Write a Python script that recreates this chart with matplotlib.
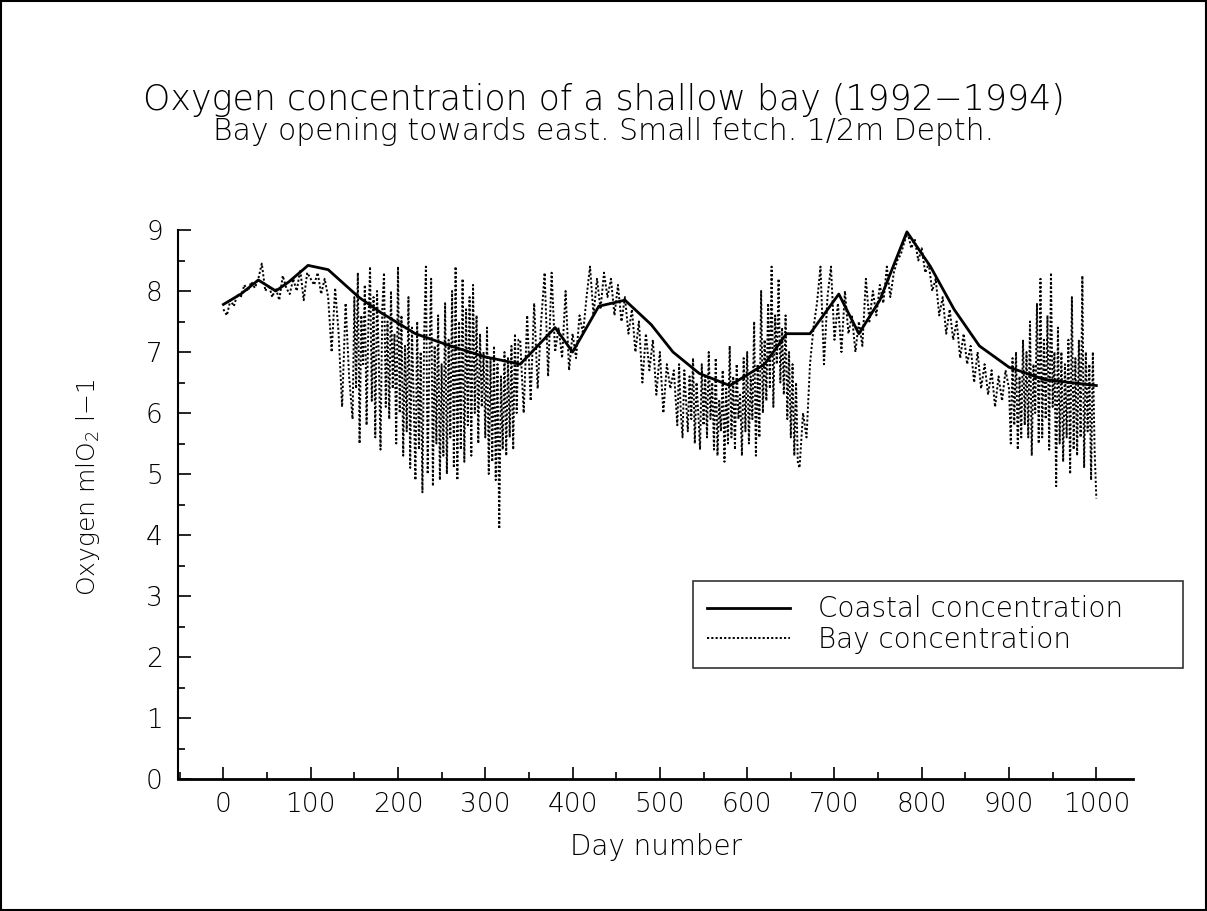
import matplotlib
matplotlib.use("Agg")
import matplotlib.pyplot as plt
from matplotlib.patches import Rectangle
from matplotlib.ticker import MultipleLocator

plt.rcParams["font.family"] = ["DejaVu Sans"]
plt.rcParams["font.weight"] = "light"
plt.rcParams["axes.labelweight"] = "light"

# Coastal concentration (solid line)
coastal_day = [0, 20, 40, 60, 75, 97, 120, 155, 180, 220, 260, 300, 340, 380, 400,
               430, 460, 490, 515, 545, 580, 620, 645, 672, 705, 728, 752, 783, 810,
               837, 866, 900, 940, 1000]
coastal_o2 = [7.78, 7.95, 8.18, 8.0, 8.15, 8.42, 8.35, 7.9, 7.65, 7.3, 7.1, 6.92, 6.8,
              7.4, 7.0, 7.75, 7.85, 7.45, 7.0, 6.65, 6.45, 6.8, 7.3, 7.3, 7.95, 7.3,
              7.85, 8.97, 8.4, 7.7, 7.1, 6.75, 6.55, 6.45]

# Bay concentration (dotted line); finer sampling where it swings a lot
bay_day = (list(range(0, 150, 4)) + list(range(150, 340, 2)) + list(range(340, 520, 4))
           + list(range(520, 660, 2)) + list(range(660, 900, 4)) + list(range(900, 1001, 2)))
bay_o2 = [
    # 0-148, every 4 days
    7.7, 7.6, 7.85, 7.75, 7.95, 7.9, 8.1, 8.0, 8.15, 8.05,
    8.2, 8.45, 8.0, 8.1, 7.9, 8.05, 7.85, 8.25, 8.05, 7.95,
    8.2, 8.0, 8.35, 7.85, 8.3, 8.2, 8.1, 8.3, 7.95, 8.2,
    7.9, 7.0, 8.05, 7.3, 6.1, 7.8, 6.6, 5.9,
    # 150-338, every 2 days
    7.9, 6.4, 8.3, 5.5, 7.6, 6.8, 8.1, 5.8, 7.4, 8.4,
    6.2, 7.9, 5.6, 8.0, 6.9, 5.4, 7.7, 8.3, 6.1, 7.5,
    5.9, 8.0, 6.4, 7.3, 5.5, 8.4, 6.0, 7.6, 5.3, 7.1,
    5.7, 7.9, 5.1, 7.4, 6.2, 4.9, 7.5, 5.4, 7.0, 4.7,
    7.3, 8.4, 5.0, 6.9, 8.2, 4.8, 7.1, 5.5, 7.6, 4.9,
    6.8, 5.3, 7.8, 5.0, 7.2, 5.6, 8.0, 5.1, 8.4, 4.9,
    7.5, 5.4, 8.2, 5.2, 7.7, 5.8, 7.9, 5.3, 8.1, 6.0,
    7.6, 5.5, 7.3, 6.1, 7.0, 5.6, 7.4, 5.0, 6.9, 5.2,
    7.1, 4.9, 6.8, 4.1, 6.6, 5.4, 7.0, 5.3, 6.9, 5.6,
    7.1, 5.4, 7.3, 6.0, 7.2,
    # 340-516, every 4 days
    7.2, 6.0, 7.6, 6.2, 7.8, 6.4, 7.5, 8.3, 6.6, 8.3,
    7.0, 7.4, 6.9, 8.0, 6.7, 7.3, 6.9, 7.6, 7.3, 7.9,
    8.4, 7.6, 8.2, 7.7, 8.3, 7.9, 8.2, 7.6, 8.1, 7.5,
    7.9, 7.3, 7.7, 7.0, 7.5, 6.5, 7.3, 6.7, 7.2, 6.3,
    7.0, 6.0, 6.8, 6.4, 6.7,
    # 520-658, every 2 days
    5.8, 6.8, 6.0, 5.6, 6.7, 6.2, 5.7, 6.6, 5.9, 6.9,
    5.5, 6.5, 6.0, 5.4, 6.8, 5.8, 6.6, 5.6, 7.0, 5.9,
    6.5, 5.4, 6.9, 5.3, 6.2, 5.7, 6.7, 5.2, 6.4, 5.5,
    7.1, 5.6, 6.6, 5.4, 6.8, 5.9, 6.3, 5.3, 6.9, 5.7,
    7.0, 5.5, 6.6, 5.9, 7.5, 5.3, 6.8, 5.6, 8.0, 6.0,
    7.2, 6.2, 7.8, 6.4, 8.4, 6.1, 7.6, 6.8, 8.2, 6.5,
    7.4, 6.3, 7.6, 5.9, 7.0, 5.6, 6.8, 5.3, 6.5, 5.2,
    # 660-896, every 4 days
    5.1, 6.0, 5.6, 6.8, 7.4, 7.8, 8.4, 6.8, 7.9, 8.4,
    7.2, 7.8, 7.0, 8.0, 7.3, 7.6, 7.0, 7.5, 7.1, 8.2,
    7.5, 8.0, 7.6, 8.1, 7.8, 8.4, 7.9, 8.3, 8.5, 8.6,
    8.8, 8.95, 8.7, 8.85, 8.5, 8.7, 8.3, 8.45, 8.0, 8.2,
    7.6, 7.9, 7.3, 7.7, 7.2, 7.5, 6.9, 7.3, 6.8, 7.1,
    6.5, 7.0, 6.4, 6.8, 6.3, 6.7, 6.1, 6.6, 6.2, 6.7,
    # 900-1000, every 2 days
    6.4, 5.5, 6.9, 5.8, 7.0, 5.4, 6.6, 5.6, 7.2, 5.8,
    7.0, 5.6, 7.5, 5.3, 6.8, 6.0, 7.8, 5.5, 8.2, 5.6,
    7.2, 5.9, 7.6, 5.4, 8.3, 6.1, 7.0, 4.8, 7.4, 5.5,
    7.0, 5.2, 6.8, 5.6, 7.2, 5.0, 7.9, 5.4, 6.9, 5.3,
    7.2, 5.6, 8.25, 5.1, 7.0, 5.7, 6.8, 4.9, 7.0, 5.4,
    4.6,
]

fig = plt.figure(figsize=(12.07, 9.11), dpi=100)
ax = fig.add_axes([178 / 1207, 132 / 911, 955 / 1207, 549 / 911])

ax.plot(coastal_day, coastal_o2, color="black", lw=2.0, label="Coastal concentration", zorder=2)
ax.plot(bay_day, bay_o2, color="black", lw=1.4, linestyle=(0, (1.1, 1.1)),
        label="Bay concentration", zorder=3)

ax.set_xlim(-52, 1042)
ax.set_ylim(0, 9)
ax.xaxis.set_major_locator(MultipleLocator(100))
ax.xaxis.set_minor_locator(MultipleLocator(50))
ax.yaxis.set_major_locator(MultipleLocator(1))
ax.yaxis.set_minor_locator(MultipleLocator(0.5))
ax.tick_params(which="both", direction="in", labelsize=19, width=1.2)
ax.tick_params(which="major", length=9)
ax.tick_params(which="minor", length=5)
ax.tick_params(axis="y", pad=11)
ax.tick_params(axis="x", pad=9)

for side in ["top", "right"]:
    ax.spines[side].set_visible(False)
ax.spines["left"].set_linewidth(1.5)
ax.spines["bottom"].set_linewidth(2.0)

ax.set_xlabel("Day number", fontsize=20, labelpad=12)
ax.set_ylabel("Oxygen mlO$_2$ l\u22121", fontsize=18)
ax.yaxis.set_label_coords(-0.080, 0.532)

fig.text(0.5, 1 - 100 / 911, "Oxygen concentration of a shallow bay (1992\u22121994)",
         ha="center", va="center", fontsize=25)
fig.text(0.5, 1 - 131 / 911, "Bay opening towards east. Small fetch. 1/2m Depth.",
         ha="center", va="center", fontsize=21.5)

h, l = ax.get_legend_handles_labels()
leg = fig.legend(h, l, loc="lower left",
                 bbox_to_anchor=(693 / 1207, 1 - 668 / 911, 490 / 1207, 88 / 911),
                 mode="expand", borderaxespad=0, fontsize=20, fancybox=False,
                 handlelength=3.0, handletextpad=1.0, labelspacing=0.1, borderpad=0.5)
leg.get_frame().set_edgecolor("black")
leg.get_frame().set_linewidth(1.2)

fig.patches.append(Rectangle((0.001, 0.001), 0.998, 0.998, transform=fig.transFigure,
                             fill=False, edgecolor="black", lw=1.5))

fig.savefig("out.png", dpi=100)
